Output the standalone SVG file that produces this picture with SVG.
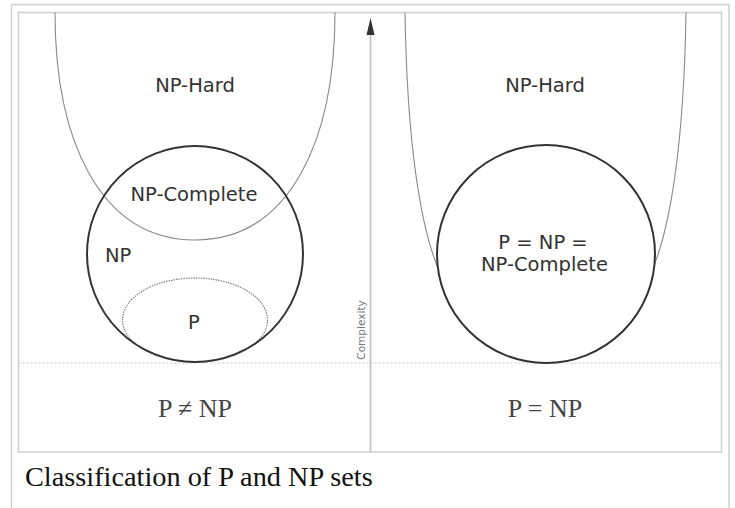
<svg xmlns="http://www.w3.org/2000/svg" width="735" height="508" viewBox="0 0 735 508">
  <style>
    .frame { fill: none; stroke: #d0d0d0; stroke-width: 1.5; }
    .hard { fill: none; stroke: #8a8a8a; stroke-width: 1.1; }
    .set { stroke: #333; stroke-width: 2; }
    .pset { fill: none; stroke: #888; stroke-width: 1.3; stroke-dasharray: 1.5 1; }
    .lbl { font-family: "DejaVu Sans", Verdana, sans-serif; font-size: 19.5px; fill: #333; text-anchor: middle; }
    .eq { font-family: "Liberation Serif", "Times New Roman", serif; font-size: 26px; fill: #444; text-anchor: middle; }
    .cap { font-family: "Liberation Serif", "Times New Roman", serif; font-size: 28.3px; fill: #111; }
  </style>
  <rect width="735" height="508" fill="#fff"/>
  <path class="frame" d="M11.5,510 V4.5 H729 V510"/>
  <rect class="frame" x="18.5" y="12.5" width="703" height="439.5" fill="#fff"/>
  <line x1="18.5" y1="363" x2="721.5" y2="363" stroke="#c8c8c8" stroke-width="1.2" stroke-dasharray="2 2"/>

  <g id="np-hard-left">
    <path class="hard" d="M55,12.5 C55,140 100,240 195,240 C290,240 335,140 335,12.5"/>
    <text class="lbl" x="195" y="92">NP-Hard</text>
  </g>
  <g id="p-left">
    <ellipse class="pset" cx="195" cy="320" rx="72.5" ry="42"/>
    <text class="lbl" x="194" y="329">P</text>
  </g>
  <g id="np-left">
    <circle class="set" cx="195" cy="254" r="108" fill="none"/>
    <text class="lbl" x="105" y="262" style="text-anchor:start">NP</text>
  </g>
  <g id="np-complete-left">
    <text class="lbl" x="194" y="201">NP-Complete</text>
  </g>
  <g id="label-left">
    <text class="eq" x="195" y="417">P ≠ NP</text>
  </g>

  <g id="np-hard-right">
    <path class="hard" d="M405,12.5 C407,140 420,230 441,275 C455,325 500,345 545.5,345 C591,345 636,325 650,275 C671,230 684,140 686,12.5"/>
    <text class="lbl" x="545" y="92">NP-Hard</text>
  </g>
  <g id="p-np-npc-right">
    <circle class="set" cx="546" cy="254" r="109" fill="#fff"/>
    <text class="lbl" x="543" y="249">P = NP =</text>
    <text class="lbl" x="544.5" y="271">NP-Complete</text>
  </g>
  <g id="label-right">
    <text class="eq" x="545" y="417">P = NP</text>
  </g>

  <g id="connectors">
    <line x1="370.5" y1="452" x2="370.5" y2="30" stroke="#c4c4c4" stroke-width="1.8"/>
    <polygon points="370.5,18 366.5,35 374.5,35" fill="#333"/>
    <text transform="translate(365,330) rotate(-90)" font-family="DejaVu Sans, sans-serif" font-size="10.5" fill="#777" text-anchor="middle">Complexity</text>
  </g>

  <text class="cap" x="25" y="486">Classification of P and NP sets</text>
</svg>
